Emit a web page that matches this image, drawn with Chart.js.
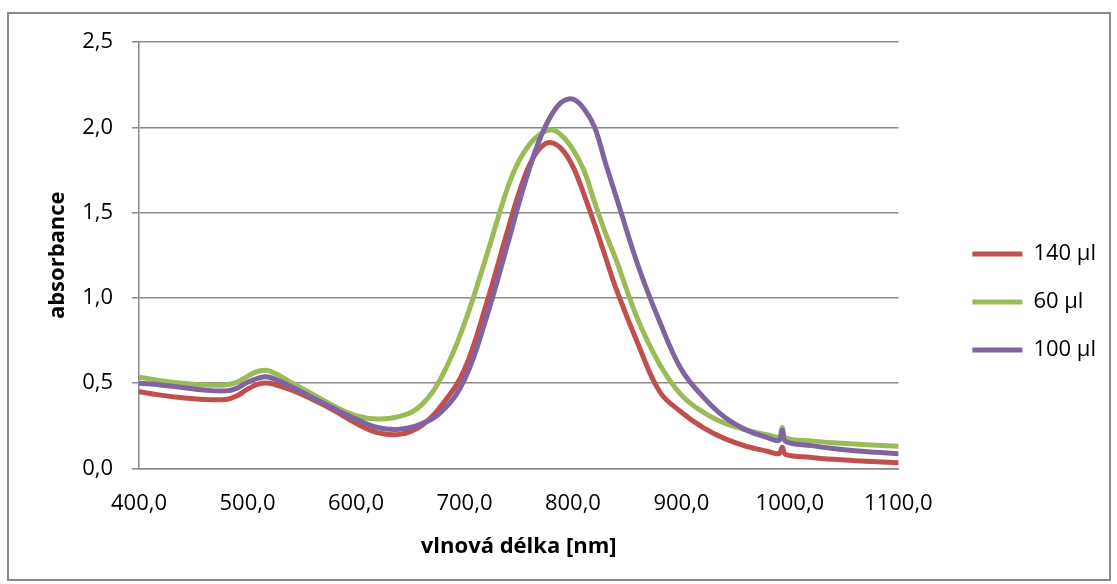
<!DOCTYPE html>
<html>
<head>
<meta charset="utf-8">
<script src="https://cdn.jsdelivr.net/npm/chart.js@4/dist/chart.umd.min.js"></script>
<style>
  html, body { margin: 0; padding: 0; background: #fff; }
  #wrap { position: relative; width: 1117px; height: 584px; }
  #frame { position: absolute; left: 7px; top: 12px; width: 1100px; height: 565px; border: 2px solid #8a8a8a; pointer-events: none; }
  canvas { position: absolute; left: 0; top: 0; }
</style>
</head>
<body>
<div id="wrap">
  <canvas id="spectra" width="1117" height="584"></canvas>
  <div id="frame"></div>
</div>
<script>
// wavelength [nm]
const wavelengths = [400, 420, 440, 460, 480, 490, 500, 510, 520, 540, 560, 580, 600, 620, 640, 660, 680, 700, 720, 740,
  750, 760, 770, 780, 790, 800, 810, 820, 830, 840, 860, 880, 900, 920, 940, 960, 980, 990, 993, 996, 1020, 1040, 1060, 1080, 1100];

const abs140 = [0.45, 0.43, 0.415, 0.405, 0.405, 0.425, 0.465, 0.495, 0.50, 0.46, 0.405, 0.34, 0.265, 0.21, 0.20, 0.25, 0.38, 0.58, 0.96, 1.40,
  1.61, 1.78, 1.88, 1.91, 1.87, 1.77, 1.61, 1.43, 1.24, 1.05, 0.73, 0.45, 0.33, 0.24, 0.175, 0.13, 0.10, 0.088, 0.125, 0.083, 0.065, 0.054, 0.046, 0.039, 0.033];

const abs60 = [0.535, 0.515, 0.50, 0.49, 0.49, 0.505, 0.54, 0.57, 0.572, 0.505, 0.435, 0.365, 0.31, 0.29, 0.305, 0.37, 0.55, 0.85, 1.24, 1.65,
  1.80, 1.90, 1.96, 1.985, 1.95, 1.87, 1.75, 1.56, 1.38, 1.22, 0.87, 0.61, 0.43, 0.33, 0.265, 0.225, 0.197, 0.185, 0.24, 0.18, 0.162, 0.151, 0.143, 0.136, 0.13];

const abs100 = [0.50, 0.49, 0.475, 0.46, 0.455, 0.47, 0.505, 0.53, 0.535, 0.48, 0.415, 0.35, 0.29, 0.24, 0.23, 0.26, 0.34, 0.52, 0.88, 1.32,
  1.55, 1.76, 1.94, 2.07, 2.15, 2.165, 2.11, 2.00, 1.79, 1.59, 1.19, 0.86, 0.58, 0.42, 0.30, 0.225, 0.18, 0.165, 0.225, 0.16, 0.134, 0.117, 0.104, 0.095, 0.087];

const seriesNames = ['140 µl', '60 µl', '100 µl'];
const xTicks = [400, 500, 600, 700, 800, 900, 1000, 1100];
const yTicks = [0, 0.5, 1.0, 1.5, 2.0, 2.5];

const FONT = 'Open Sans';
const GRID = '#8a8a8a';

function pts(vals) {
  return wavelengths.map((w, i) => ({ x: w, y: vals[i] }));
}

function comma(v) {
  return v.toFixed(1).replace('.', ',');
}

function line(label, vals, color, order) {
  return {
    label,
    data: pts(vals),
    borderColor: color,
    backgroundColor: color,
    borderWidth: 5,
    borderCapStyle: 'round',
    pointRadius: 0,
    tension: 0.4,
    order
  };
}

new Chart(document.getElementById('spectra'), {
  type: 'line',
  data: {
    datasets: [
      line(seriesNames[0], abs140, '#C0504D', 3),
      line(seriesNames[1], abs60, '#9BBB59', 2),
      line(seriesNames[2], abs100, '#8064A2', 1)
    ]
  },
  options: {
    responsive: false,
    animation: false,
    layout: { padding: { top: 42, left: 0, right: 11, bottom: 22 } },
    plugins: {
      tooltip: { enabled: false },
      legend: {
        position: 'right',
        labels: {
          usePointStyle: true,
          pointStyle: 'line',
          pointStyleWidth: 50,
          padding: 26,
          color: '#000',
          font: { family: FONT, size: 22 },
          sort: (a, b) => a.datasetIndex - b.datasetIndex
        }
      }
    },
    scales: {
      x: {
        type: 'linear',
        min: xTicks[0],
        max: xTicks[xTicks.length - 1],
        afterBuildTicks: s => { s.ticks = xTicks.map(v => ({ value: v })); },
        afterFit: s => { s.height = 93.5; },
        grid: { display: false, drawTicks: false },
        border: { display: true, color: GRID, width: 1.5 },
        ticks: { color: '#000', padding: 22, font: { family: FONT, size: 22 }, callback: v => comma(v), maxRotation: 0 },
        title: { display: true, text: 'vlnová délka [nm]', color: '#000', font: { family: FONT, size: 22, weight: 'bold' }, padding: { top: 0, bottom: 2 } }
      },
      y: {
        min: 0,
        max: 2.5,
        afterBuildTicks: s => { s.ticks = yTicks.map(v => ({ value: v })); },
        afterFit: s => { s.width = 139; },
        grid: { color: GRID, lineWidth: 1.5, tickLength: 7 },
        border: { display: true, color: GRID, width: 1.5 },
        ticks: { color: '#000', padding: 19, font: { family: FONT, size: 22 }, callback: v => comma(v) },
        title: { display: true, text: 'absorbance', color: '#000', font: { family: FONT, size: 22, weight: 'bold' }, padding: { top: 45, bottom: 0 } }
      },
      gap: {
        type: 'linear',
        position: 'right',
        display: true,
        afterFit: s => { s.width = 48; },
        grid: { display: false, drawTicks: false },
        border: { display: false },
        ticks: { display: false }
      }
    }
  }
});
</script>
</body>
</html>
